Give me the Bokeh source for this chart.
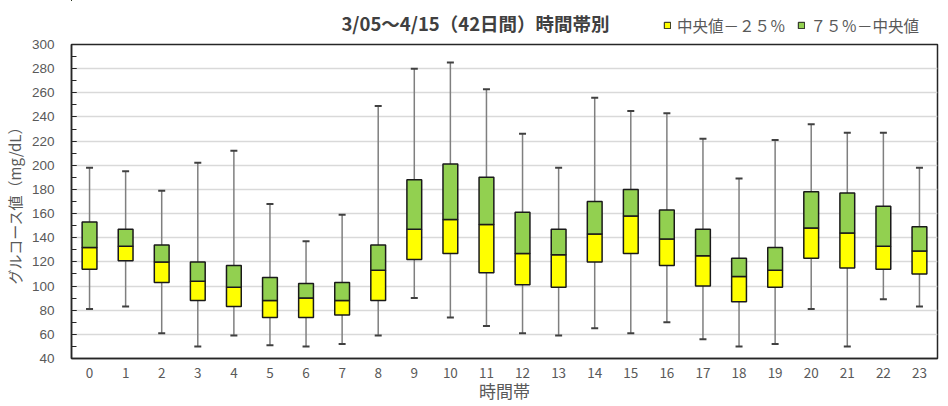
from bokeh.plotting import figure
from bokeh.layouts import column
from bokeh.models import Range1d, FixedTicker, Legend, LegendItem, ColumnDataSource
from bokeh.core.properties import value
from bokeh.embed import file_html
from bokeh.resources import INLINE

hours = list(range(24))
hour_labels = [str(h) for h in hours]
whisker_max = [198, 195, 179, 202, 212, 168, 137, 159, 249, 280, 285, 263, 226, 198, 256, 245, 243, 222, 189, 221, 234, 227, 227, 198]
q3 = [153, 147, 134, 120, 117, 107, 102, 103, 134, 188, 201, 190, 161, 147, 170, 180, 163, 147, 123, 132, 178, 177, 166, 149]
median = [132, 133, 120, 104, 99, 88, 90, 88, 113, 147, 155, 151, 127, 126, 143, 158, 139, 125, 108, 113, 148, 144, 133, 129]
q1 = [114, 121, 103, 88, 83, 74, 74, 76, 88, 122, 127, 111, 101, 99, 120, 127, 117, 100, 87, 99, 123, 115, 114, 110]
whisker_min = [81, 83, 61, 50, 59, 51, 50, 52, 59, 90, 74, 67, 61, 59, 65, 61, 70, 56, 50, 52, 81, 50, 89, 83]

title_text = "3/05～4/15（42日間）時間帯別"
legend_low = "中央値－２５％"
legend_high = "７５％－中央値"
y_title = "グルコース値（mg/dL）"
x_title = "時間帯"

FONT = "Noto Sans CJK JP"
NUM_FONT = "Liberation Sans"
GREY = "#595959"
YELLOW = "#ffff00"
GREEN = "#92d050"
EDGE = "#1a1a1a"

W = 948
TOP_H = 36
MAIN_H = 370
LEFT = 71
RIGHT = 11

src = ColumnDataSource(dict(x=hours, hi=whisker_max, q3=q3, med=median, q1=q1, lo=whisker_min))

# ---- header strip: title + legend (frame aligned with the chart frame) ----
top = figure(width=W, height=TOP_H, output_backend="svg", toolbar_location=None,
             x_range=Range1d(LEFT, W - RIGHT), y_range=Range1d(0, TOP_H),
             x_axis_type=None, y_axis_type=None,
             min_border_left=LEFT, min_border_right=RIGHT, min_border_top=0, min_border_bottom=0)
top.outline_line_color = None
top.background_fill_color = "white"
top.border_fill_color = "white"
top.text(x=[475], y=[13.4], text=[title_text], text_align="center", text_baseline="middle",
         text_font=value(FONT), text_font_size="18.5px", text_font_style="bold", text_color="#404040")
# legend keys: same box glyph styles (their bars fall outside this strip's ranges)
k_low = top.vbar(x="x", bottom="q1", top="med", width=1, source=src,
                 fill_color=YELLOW, line_color=EDGE, line_width=1)
k_high = top.vbar(x="x", bottom="med", top="q3", width=1, source=src,
                  fill_color=GREEN, line_color=EDGE, line_width=1)
legend = Legend(items=[LegendItem(label=legend_low, renderers=[k_low], index=0),
                       LegendItem(label=legend_high, renderers=[k_high], index=0)],
                orientation="horizontal", location=(592, 0),
                glyph_width=8, glyph_height=8, label_standoff=6, spacing=11,
                padding=0, margin=0, label_height=16,
                label_text_font=FONT, label_text_font_size="15.5px", label_text_color=GREY,
                background_fill_alpha=0, border_line_color=None)
top.add_layout(legend, "center")

# ---- main chart ----
p = figure(width=W, height=MAIN_H, output_backend="svg", toolbar_location=None,
           x_range=Range1d(-0.5, 23.5), y_range=Range1d(40, 300),
           min_border_left=LEFT, min_border_right=RIGHT, min_border_top=8, min_border_bottom=48)
p.background_fill_color = "white"
p.border_fill_color = "white"
p.outline_line_color = "#262626"
p.outline_line_width = 1.5

p.xgrid.grid_line_color = None
p.ygrid.grid_line_color = "#d9d9d9"
p.ygrid.grid_line_width = 1.5
p.ygrid.ticker = FixedTicker(ticks=list(range(40, 301, 20)))

p.yaxis.ticker = FixedTicker(ticks=list(range(40, 301, 20)), minor_ticks=list(range(40, 301, 10)))
p.yaxis.major_tick_in = 5
p.yaxis.major_tick_out = 0
p.yaxis.minor_tick_in = 5
p.yaxis.minor_tick_out = 0
p.yaxis.major_tick_line_color = "#262626"
p.yaxis.minor_tick_line_color = "#262626"
p.yaxis.axis_line_color = "#262626"
p.yaxis.axis_line_width = 1.5
p.yaxis.major_label_text_font = NUM_FONT
p.yaxis.major_label_text_font_size = "13.5px"
p.yaxis.major_label_text_color = GREY
p.yaxis.major_label_standoff = 17
p.yaxis.axis_label = y_title
p.yaxis.axis_label_text_font = FONT
p.yaxis.axis_label_text_font_size = "15px"
p.yaxis.axis_label_text_font_style = "normal"
p.yaxis.axis_label_text_color = GREY
p.yaxis.axis_label_standoff = 4

p.xaxis.ticker = FixedTicker(ticks=hours)
p.xaxis.major_label_overrides = {h: s for h, s in zip(hours, hour_labels)}
p.xaxis.major_tick_line_color = None
p.xaxis.minor_tick_line_color = None
p.xaxis.major_tick_out = 0
p.xaxis.major_tick_in = 0
p.xaxis.axis_line_color = "#262626"
p.xaxis.axis_line_width = 1.5
p.xaxis.major_label_text_font = FONT
p.xaxis.major_label_text_font_size = "13.5px"
p.xaxis.major_label_text_color = GREY
p.xaxis.major_label_standoff = 9
p.xaxis.axis_label = x_title
p.xaxis.axis_label_text_font = FONT
p.xaxis.axis_label_text_font_size = "17px"
p.xaxis.axis_label_text_font_style = "normal"
p.xaxis.axis_label_text_color = GREY
p.xaxis.axis_label_standoff = -3

# whiskers
p.segment(x0="x", y0="lo", x1="x", y1="hi", source=src, line_color="#7f7f7f", line_width=1.5)
# boxes
p.vbar(x="x", bottom="q1", top="med", width=0.41, source=src,
       fill_color=YELLOW, line_color=EDGE, line_width=1.5)
p.vbar(x="x", bottom="med", top="q3", width=0.41, source=src,
       fill_color=GREEN, line_color=EDGE, line_width=1.5)
# caps
p.scatter(x="x", y="hi", source=src, marker="dash", size=7, line_color="#404040", line_width=2)
p.scatter(x="x", y="lo", source=src, marker="dash", size=7, line_color="#404040", line_width=2)

layout = column(top, p, spacing=0)
open("out.html", "w").write(file_html(layout, INLINE))
